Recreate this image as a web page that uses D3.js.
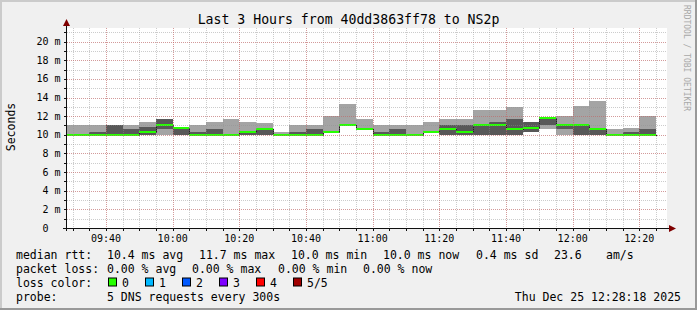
<!DOCTYPE html>
<html>
<head>
<meta charset="utf-8">
<script src="https://cdn.jsdelivr.net/npm/d3@7"></script>
<style>
  html, body { margin: 0; padding: 0; background: #f0f0f0; }
  #chart { width: 697px; height: 310px; }
</style>
</head>
<body>
<div id="chart"></div>
<script>
// interval end times (each step covers the 5 minutes before it)
const stepEnds = ["09:30", "09:35", "09:40", "09:45", "09:50", "09:55", "10:00", "10:05", "10:10",
  "10:15", "10:20", "10:25", "10:30", "10:35", "10:40", "10:45", "10:50", "10:55", "11:00",
  "11:05", "11:10", "11:15", "11:20", "11:25", "11:30", "11:35", "11:40", "11:45", "11:50",
  "11:55", "12:00", "12:05", "12:10", "12:15", "12:20", "12:25"];

// sorted ping times in ms (5 pings per step)
const ping1 = [10.0, 10.0, 10.0, 10.0, 10.0, 10.0, 10.0, 10.0, 10.0, 10.0, 10.0, 10.0, 10.0, 10.0, 10.0, 10.0, 10.25, 10.95,
  10.55, 10.0, 10.0, 10.0, 10.25, 10.0, 10.0, 10.0, 10.0, 10.0, 10.3, 10.6, 10.0, 10.0, 10.0, 10.0, 10.0, 10.0];
const ping2 = [10.0, 10.0, 10.0, 10.0, 10.0, 10.0, 10.6, 10.0, 10.0, 10.0, 10.0, 10.0, 10.0, 10.0, 10.0, 10.0, 10.28, 11.0,
  10.6, 10.0, 10.0, 10.0, 10.28, 10.0, 10.0, 10.0, 10.0, 10.0, 10.3, 11.05, 10.6, 10.0, 10.0, 10.0, 10.0, 10.0];
const median = [10.0, 10.0, 10.0, 10.0, 10.0, 10.3, 11.05, 10.7, 10.0, 10.0, 10.0, 10.3, 10.65, 10.0, 10.0, 10.0, 10.3, 11.05,
  10.65, 10.0, 10.0, 10.0, 10.3, 10.6, 10.3, 11.05, 11.05, 10.6, 10.75, 11.8, 11.05, 11.05, 10.6, 10.0, 10.0, 10.0];
const ping4 = [10.0, 10.0, 10.3, 11.1, 10.6, 10.8, 11.7, 10.75, 10.35, 10.6, 10.0, 10.35, 10.7, 10.0, 10.35, 10.6, 10.32, 11.1,
  10.7, 10.35, 10.6, 10.0, 10.32, 11.1, 11.1, 11.1, 11.4, 11.7, 11.4, 11.85, 11.1, 11.05, 10.65, 10.0, 10.3, 10.6];
const ping5 = [11.1, 11.1, 11.1, 11.1, 11.1, 11.4, 11.7, 10.75, 11.1, 11.4, 11.7, 11.4, 11.3, 10.3, 11.05, 11.05, 12.0, 13.3,
  11.7, 11.05, 11.05, 11.05, 11.4, 11.7, 11.7, 12.65, 12.65, 13.0, 11.4, 11.9, 12.0, 13.1, 13.6, 10.6, 10.75, 12.0];

const yTicks = [0, 2, 4, 6, 8, 10, 12, 14, 16, 18, 20];
const lossColors = [["0", "#26ff00"], ["1", "#00b8ff"], ["2", "#0059ff"], ["3", "#7e00ff"], ["4", "#ff0000"], ["5/5", "#a00000"]];

const width = 697;
const height = 310;
const mono = "'DejaVu Sans Mono', monospace";

const parseT = d3.timeParse("%Y-%m-%d %H:%M:%S");
const tStart = parseT("2025-12-25 09:28:18");
const tEnd = parseT("2025-12-25 12:28:18");

const plotL = 67, plotR = 667, plotT = 28, plotB = 228;

const x = d3.scaleTime().domain([tStart, tEnd]).range([plotL, plotR]);
const y = d3.scaleLinear().domain([0, 200 / 9.32]).range([plotB, plotT]);

const steps = stepEnds.map((s, i) => {
  const t1 = parseT("2025-12-25 " + s + ":00");
  const t0 = d3.timeMinute.offset(t1, -5);
  return { t0, t1, p1: ping1[i], p2: ping2[i], med: median[i], p4: ping4[i], p5: ping5[i] };
});

const svg = d3.select("#chart").append("svg")
  .attr("width", width)
  .attr("height", height)
  .style("font-family", mono);

// background + shaded frame
svg.append("rect").attr("width", width).attr("height", height).attr("fill", "#f0f0f0");
svg.append("rect").attr("x", plotL).attr("y", plotT).attr("width", plotR - plotL).attr("height", plotB - plotT).attr("fill", "#ffffff");
svg.append("path").attr("d", `M0,${height} V0 H${width}`).attr("fill", "none")
  .attr("stroke", "#cbcbcb").attr("stroke-width", 4);
svg.append("path").attr("d", `M0,${height} H${width} V0`).attr("fill", "none")
  .attr("stroke", "#999999").attr("stroke-width", 4);

svg.append("clipPath").attr("id", "plotclip")
  .append("rect").attr("x", plotL).attr("y", plotT).attr("width", plotR - plotL).attr("height", plotB - plotT);

const plot = svg.append("g").attr("clip-path", "url(#plotclip)");
const px = t => Math.round(x(t));

// smoke: outer pings light, inner pings dark
plot.selectAll("rect.smoke1").data(steps).join("rect")
  .attr("class", "smoke1")
  .attr("x", d => px(d.t0)).attr("width", d => px(d.t1) - px(d.t0))
  .attr("y", d => Math.round(y(d.p5))).attr("height", d => Math.round(y(d.p1)) - Math.round(y(d.p5)))
  .attr("fill", "#a4a4a4").attr("shape-rendering", "crispEdges");

plot.selectAll("rect.smoke2").data(steps).join("rect")
  .attr("class", "smoke2")
  .attr("x", d => px(d.t0)).attr("width", d => px(d.t1) - px(d.t0))
  .attr("y", d => Math.round(y(d.p4))).attr("height", d => Math.round(y(d.p2)) - Math.round(y(d.p4)))
  .attr("fill", "#585858").attr("shape-rendering", "crispEdges");

// grid
const grid = svg.append("g").attr("shape-rendering", "crispEdges");
const minorTimes = d3.timeMinute.every(5).range(tStart, tEnd);
const majorTimes = d3.timeMinute.every(20).range(tStart, tEnd);
const minorY = d3.range(1, 22);

grid.selectAll("line.vmin").data(minorTimes).join("line")
  .attr("x1", d => px(d) + 0.5).attr("x2", d => px(d) + 0.5)
  .attr("y1", plotT).attr("y2", plotB)
  .attr("stroke", "#8f8f8f").attr("stroke-opacity", 0.46).attr("stroke-dasharray", "1,1");
grid.selectAll("line.hmin").data(minorY).join("line")
  .attr("x1", plotL).attr("x2", plotR)
  .attr("y1", d => Math.round(y(d)) + 0.5).attr("y2", d => Math.round(y(d)) + 0.5)
  .attr("stroke", "#8f8f8f").attr("stroke-opacity", 0.46).attr("stroke-dasharray", "1,1");
grid.selectAll("line.vmaj").data(majorTimes).join("line")
  .attr("x1", d => px(d) + 0.5).attr("x2", d => px(d) + 0.5)
  .attr("y1", plotT).attr("y2", plotB)
  .attr("stroke", "#de5050").attr("stroke-opacity", 0.4).attr("stroke-dasharray", "1,1");
grid.selectAll("line.hmaj").data(yTicks.filter(v => v > 0)).join("line")
  .attr("x1", plotL).attr("x2", plotR)
  .attr("y1", d => Math.round(y(d)) + 0.5).attr("y2", d => Math.round(y(d)) + 0.5)
  .attr("stroke", "#de5050").attr("stroke-opacity", 0.4).attr("stroke-dasharray", "1,1");

// median: dark step line then loss-coloured band
const medPts = steps.map(d => [px(d.t0), y(d.med)]);
const lastStep = steps[steps.length - 1];
medPts.push([px(lastStep.t1), y(lastStep.med)]);
plot.append("path")
  .attr("d", d3.line().curve(d3.curveStepAfter)(medPts.map(p => [p[0] + 0.5, Math.round(p[1]) + 0.5])))
  .attr("fill", "none").attr("stroke", "#202020").attr("stroke-width", 1)
  .attr("shape-rendering", "crispEdges");
plot.selectAll("rect.med").data(steps).join("rect")
  .attr("class", "med")
  .attr("x", d => px(d.t0)).attr("width", d => px(d.t1) - px(d.t0))
  .attr("y", d => Math.round(y(d.med)) - 1).attr("height", 2)
  .attr("fill", "#26ff00").attr("shape-rendering", "crispEdges");

// axes
const axisG = svg.append("g").attr("shape-rendering", "crispEdges");
axisG.append("line").attr("x1", plotL - 4).attr("x2", plotR + 3).attr("y1", plotB + 0.5).attr("y2", plotB + 0.5)
  .attr("stroke", "#101010");
axisG.append("line").attr("x1", plotL - 0.5).attr("x2", plotL - 0.5).attr("y1", plotB + 3).attr("y2", plotT - 2)
  .attr("stroke", "#101010");
axisG.selectAll("line.yt").data(minorY.concat([0])).join("line")
  .attr("x1", plotL - 3).attr("x2", plotL)
  .attr("y1", d => Math.round(y(d)) + 0.5).attr("y2", d => Math.round(y(d)) + 0.5)
  .attr("stroke", "#101010");
axisG.selectAll("line.xt").data(minorTimes).join("line")
  .attr("x1", d => px(d) + 0.5).attr("x2", d => px(d) + 0.5)
  .attr("y1", plotB).attr("y2", plotB + 3)
  .attr("stroke", "#101010");

// arrows
svg.append("path").attr("d", `M${plotL - 4},${plotT - 2} L${plotL + 3},${plotT - 2} L${plotL - 0.5},${plotT - 9} Z`)
  .attr("fill", "#7f0000");
svg.append("path").attr("d", `M${plotR + 2},${plotB - 3} L${plotR + 2},${plotB + 4} L${plotR + 9},${plotB + 0.5} Z`)
  .attr("fill", "#7f0000");

// tick labels
const fmt = d3.timeFormat("%H:%M");
svg.selectAll("text.xl").data(majorTimes).join("text")
  .attr("x", d => x(d)).attr("y", 241.5)
  .attr("text-anchor", "middle").attr("font-size", "10px").attr("fill", "#000")
  .text(d => fmt(d));
svg.selectAll("text.yl").data(yTicks).join("text")
  .attr("x", d => d === 0 ? 48.5 : 60.5).attr("y", d => y(d) + 3.6)
  .attr("text-anchor", "end").attr("font-size", "10px").attr("fill", "#000")
  .text(d => d === 0 ? "0" : d + " m");

// title, axis label, watermark
svg.append("text").attr("x", 348.5).attr("y", 24)
  .attr("text-anchor", "middle").attr("font-size", "13.2px").attr("fill", "#000")
  .text("Last 3 Hours from 40dd3863ff78 to NS2p");
svg.append("text").attr("transform", "translate(14.5,127) rotate(-90)")
  .attr("text-anchor", "middle").attr("font-size", "11.5px").attr("fill", "#000")
  .text("Seconds");
svg.append("text").attr("transform", "translate(684,5) rotate(90)")
  .attr("font-size", "8px").attr("fill", "#a8a8a8")
  .text("RRDTOOL / TOBI OETIKER");

// legend
const legendFont = "11.5px";
const rows = [258.5, 272.5, 286.5, 300.5];
function legendText(xp, yp, s, anchor) {
  svg.append("text").attr("x", xp).attr("y", yp)
    .attr("text-anchor", anchor || "start").attr("font-size", legendFont).attr("fill", "#000")
    .attr("xml:space", "preserve")
    .text(s);
}
const rttItems = ["median rtt:", "10.4 ms avg", "11.7 ms max", "10.0 ms min", "10.0 ms now", "0.4 ms sd", "23.6", "am/s"];
const rttX = [16, 107, 199, 291, 383, 476, 554, 606];
rttItems.forEach((s, i) => legendText(rttX[i], rows[0], s));
const lossItems = ["packet loss:", "0.00 % avg", "0.00 % max", "0.00 % min", "0.00 % now"];
const lossX = [16, 107, 192, 278, 363];
lossItems.forEach((s, i) => legendText(lossX[i], rows[1], s));
legendText(16, rows[2], "loss color:");
lossColors.forEach(([label, col], i) => {
  const bx = 108 + i * 37;
  svg.append("rect").attr("x", bx + 0.5).attr("y", rows[2] - 8.5).attr("width", 8).attr("height", 8)
    .attr("fill", col).attr("stroke", "#000").attr("stroke-width", 1);
  legendText(bx + 14, rows[2], label);
});
legendText(16, rows[3], "probe:");
legendText(107, rows[3], "5 DNS requests every 300s");
legendText(681, rows[3], "Thu Dec 25 12:28:18 2025", "end");
</script>
</body>
</html>
